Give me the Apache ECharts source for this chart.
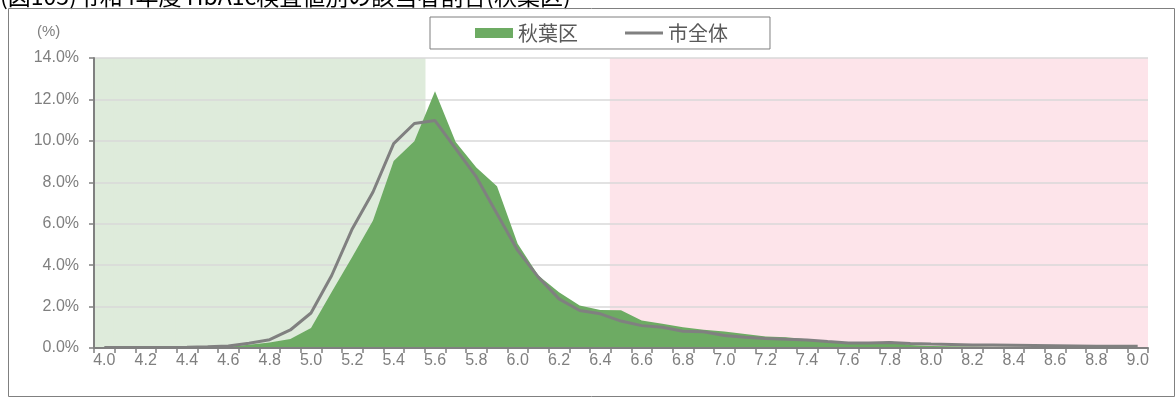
<!DOCTYPE html>
<html>
<head>
<meta charset="utf-8">
<script src="https://cdn.jsdelivr.net/npm/echarts@6/dist/echarts.min.js"></script>
<style>
html,body{margin:0;padding:0;background:#fff;}
#chart{width:1176px;height:397px;}
</style>
</head>
<body>
<div id="chart"></div>
<script>
const titleText = '(図105)令和4年度 HbA1c検査値別の該当者割合(秋葉区)';
const categories = ['4.0','4.1','4.2','4.3','4.4','4.5','4.6','4.7','4.8','4.9',
  '5.0','5.1','5.2','5.3','5.4','5.5','5.6','5.7','5.8','5.9',
  '6.0','6.1','6.2','6.3','6.4','6.5','6.6','6.7','6.8','6.9',
  '7.0','7.1','7.2','7.3','7.4','7.5','7.6','7.7','7.8','7.9',
  '8.0','8.1','8.2','8.3','8.4','8.5','8.6','8.7','8.8','8.9','9.0'];
const akihaValues = [0.01,0.00,0.01,0.01,0.02,0.03,0.06,0.16,0.27,0.44,
  0.97,2.70,4.40,6.16,9.03,9.98,12.40,9.95,8.71,7.81,
  5.03,3.50,2.69,2.05,1.84,1.82,1.33,1.17,1.00,0.88,
  0.80,0.68,0.55,0.52,0.42,0.28,0.20,0.20,0.33,0.15,
  0.10,0.08,0.07,0.06,0.06,0.05,0.05,0.04,0.04,0.04,0.03];
const cityValues = [0.02,0.03,0.02,0.03,0.04,0.06,0.10,0.23,0.40,0.87,
  1.69,3.50,5.76,7.53,9.87,10.84,10.98,9.63,8.26,6.48,
  4.71,3.42,2.37,1.81,1.65,1.30,1.08,1.00,0.81,0.78,
  0.60,0.52,0.46,0.42,0.39,0.31,0.24,0.24,0.27,0.22,
  0.19,0.17,0.15,0.14,0.13,0.12,0.11,0.10,0.09,0.09,0.08];
const seriesNames = ['秋葉区', '市全体'];
const yTicks = [0, 2, 4, 6, 8, 10, 12, 14];
const normalUpper = 5.5;   // shaded green up to this value
const diabetesLower = 6.5; // shaded pink from this value
const yMax = 14;

const normalBand = categories.map(c => parseFloat(c) <= normalUpper ? yMax : '-');
const diabetesBand = categories.map(c => parseFloat(c) >= diabetesLower ? yMax : '-');

const FONT = '"Liberation Sans Narrow", "Arial Narrow", "Liberation Sans", Arial, sans-serif';
const CJK = '"Noto Sans CJK JP", sans-serif';
const chart = echarts.init(document.getElementById('chart'), null, {renderer: 'canvas'});
chart.setOption({
  animation: false,
  backgroundColor: '#ffffff',
  grid: {left: 94, right: 28, top: 58, bottom: 49},
  legend: {
    left: 430, top: 17,
    padding: [6, 42, 6, 45],
    borderColor: '#7f7f7f', borderWidth: 1,
    itemGap: 47, itemWidth: 38, itemHeight: 10,
    symbolKeepAspect: true,
    textStyle: {fontSize: 20, color: '#595959', fontFamily: CJK},
    data: [
      {name: seriesNames[0], icon: 'rect', itemStyle: {color: '#6dab63'}},
      {name: seriesNames[1], icon: 'path://M0,0 H40 V3 H0 Z', itemStyle: {color: '#808080'}}
    ]
  },
  xAxis: {
    type: 'category',
    data: categories,
    boundaryGap: true,
    z: 5,
    axisLine: {lineStyle: {color: '#808080', width: 2}},
    axisTick: {show: true, interval: 0, length: 5, lineStyle: {color: '#808080', width: 1.5}},
    axisLabel: {interval: 1, color: '#7f7f7f', fontSize: 16, fontFamily: FONT, margin: 5}
  },
  yAxis: {
    type: 'value',
    min: 0, max: yMax, interval: 2,
    z: 1,
    axisLine: {show: true, lineStyle: {color: '#808080', width: 2}},
    axisTick: {show: true, length: 5, lineStyle: {color: '#808080', width: 1.5}},
    axisLabel: {color: '#7f7f7f', fontSize: 16, fontFamily: FONT, margin: 15,
      formatter: v => yTicks.includes(v) ? v.toFixed(1) + '%' : ''},
    splitLine: {show: true, lineStyle: {color: '#d9d9d9', width: 1.5}}
  },
  graphic: [
    {type: 'rect', silent: true, z: 100,
      shape: {x: 8.5, y: 8.5, width: 1166, height: 388},
      style: {fill: 'none', stroke: '#808080', lineWidth: 1}},
    {type: 'text', left: 0, top: -15, silent: true,
      style: {text: titleText, fontSize: 23, fill: '#000000', fontFamily: CJK}},
    {type: 'text', left: 37, top: 24, silent: true,
      style: {text: '(%)', fontSize: 15, fill: '#7f7f7f', fontFamily: FONT}}
  ],
  series: [
    {type: 'bar', name: 'normalBand', stack: 'bg', data: normalBand, barWidth: '108%',
      silent: true, z: 0, itemStyle: {color: '#deebdb'}},
    {type: 'bar', name: 'diabetesBand', stack: 'bg', data: diabetesBand, barWidth: '108%',
      silent: true, z: 0, itemStyle: {color: '#fde4ea'}},
    {type: 'line', name: seriesNames[0], data: akihaValues, symbol: 'none', z: 2,
      itemStyle: {color: '#6dab63'},
      lineStyle: {width: 0, color: '#6dab63'},
      areaStyle: {color: '#6dab63', opacity: 1}},
    {type: 'line', name: seriesNames[1], data: cityValues, symbol: 'none', z: 3,
      itemStyle: {color: '#808080'},
      lineStyle: {width: 3, color: '#808080'}}
  ]
});
</script>
</body>
</html>
